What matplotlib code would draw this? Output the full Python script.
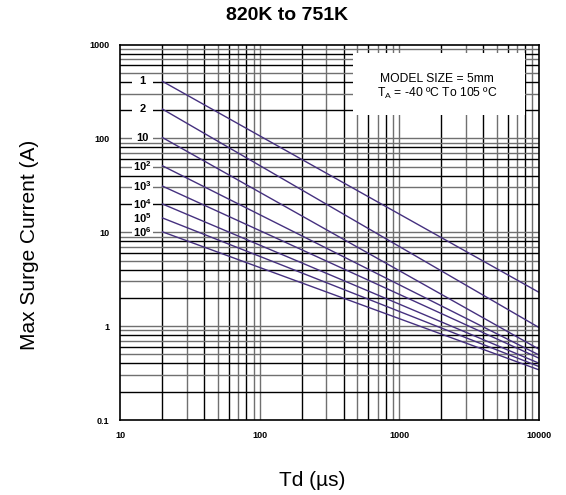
import numpy as np
import matplotlib
matplotlib.use("Agg")
import matplotlib.pyplot as plt
from matplotlib.patches import Rectangle

plt.rcParams["font.family"] = ["Liberation Sans", "DejaVu Sans"]
plt.rcParams["mathtext.fontset"] = "custom"
plt.rcParams["mathtext.rm"] = "Liberation Sans"
plt.rcParams["mathtext.bf"] = "Liberation Sans:bold"

# pulse width range of the curves (us)
td = [20, 10000]
# number of surges for each curve
surge_labels = ["1", "2", "10", r"10$^\mathbf{2}$", r"10$^\mathbf{3}$",
                r"10$^\mathbf{4}$", r"10$^\mathbf{5}$", r"10$^\mathbf{6}$"]
# max surge current at td[0] and td[1] (A)
i_start = [405, 205, 102, 51, 31, 20, 14.2, 10.1]
i_end = [2.3, 0.97, 0.57, 0.495, 0.457, 0.404, 0.372, 0.343]

x_ticks = [10, 100, 1000, 10000]
x_ticklabels = ["10", "100", "1000", "10000"]
y_ticks = [0.1, 1, 10, 100, 1000]
y_ticklabels = ["0.1", "1", "10", "100", "1000"]

W, H = 566, 495
fig = plt.figure(figsize=(W / 100, H / 100), dpi=100)
ax = fig.add_axes([120.5 / W, 1 - 420 / H, 418.2 / W, 375.5 / H])
ax.set_xscale("log")
ax.set_yscale("log")
ax.set_xlim(10, 10000)
ax.set_ylim(0.1, 1000)

# grid: every 1..9 step in each decade
for dec in [10, 100, 1000]:
    for k in range(1, 10):
        v = dec * k
        if v <= 10 or v >= 10000:
            continue
        c = "black" if k % 2 == 0 else "#707070"
        ax.axvline(v, color=c, lw=1.0, zorder=1)
for dec in [0.1, 1, 10, 100]:
    for k in range(1, 10):
        v = dec * k
        if v <= 0.1 or v >= 1000:
            continue
        c = "black" if k % 2 == 0 else "#707070"
        ax.axhline(v, color=c, lw=1.0, zorder=1)

# surge curves + labels on white patches
for lab, a, b in zip(surge_labels, i_start, i_end):
    ax.plot(td, [a, b], color="#45307f", lw=1.0, zorder=3)
    ax.add_patch(Rectangle((12.1, a / 10 ** 0.045), 17.1 - 12.1,
                           a * 10 ** 0.045 - a / 10 ** 0.045,
                           fc="white", ec="none", zorder=2))
    ax.text(14.4, a, lab, fontsize=8, fontweight="bold", ha="center", va="center",
            zorder=4)

# info box
ax.add_patch(Rectangle((0.557, 0.812), 0.411, 0.165, transform=ax.transAxes,
                       fc="white", ec="none", zorder=4))
ax.text(0.757, 0.908, "MODEL SIZE = 5mm", transform=ax.transAxes, fontsize=8.7,
        ha="center", va="center", zorder=5)
ax.text(0.757, 0.870, r"T$_\mathregular{A}$ = -40 ºC To 105 ºC", transform=ax.transAxes,
        fontsize=8.7, ha="center", va="center", zorder=5)

ax.set_xticks(x_ticks)
ax.set_xticklabels(x_ticklabels, fontsize=6.5, fontweight="bold")
ax.set_yticks(y_ticks)
ax.set_yticklabels(y_ticklabels, fontsize=6.5, fontweight="bold")
ax.minorticks_off()
ax.tick_params(length=0, pad=8)
for s in ax.spines.values():
    s.set_linewidth(1.2)
    s.set_zorder(6)

fig.text(287.5 / W, 1 - 15.5 / H, "820K to 751K", fontsize=14, fontweight="bold",
         ha="center", va="center")
fig.text(312 / W, 1 - 481 / H, "Td (µs)", fontsize=15, ha="center", va="center")
fig.text(30 / W, 1 - 245 / H, "Max Surge Current (A)", fontsize=15, rotation=90,
         ha="center", va="center")

fig.savefig("out.png", dpi=100)
